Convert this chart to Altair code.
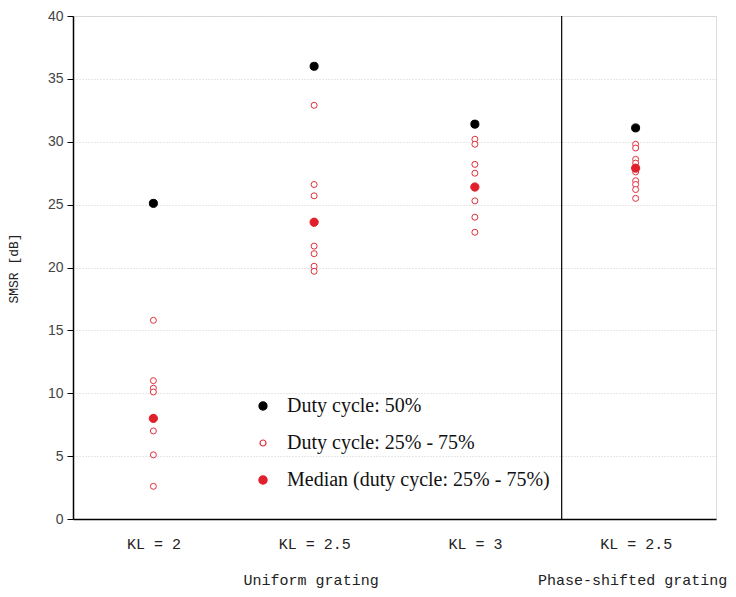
import altair as alt
import pandas as pd

# ---- data ----
positions = [0.5, 1.5, 2.5, 3.5]
kl_labels = ["KL = 2", "KL = 2.5", "KL = 3", "KL = 2.5"]
group_names = ["Uniform grating", "Phase-shifted grating"]
group_pos = [1.5, 3.5]
divider_pos = [3.04]

duty50 = [25.1, 36.0, 31.4, 31.1]
median_vals = [8.0, 23.6, 26.4, 27.9]
spread_kl2 = [15.8, 11.0, 10.4, 10.1, 8.0, 7.0, 5.1, 2.6]
spread_kl25 = [32.9, 26.6, 25.7, 23.6, 21.7, 21.1, 20.1, 19.7]
spread_kl3 = [30.2, 29.8, 28.2, 27.5, 26.4, 25.3, 24.0, 22.8]
spread_ps = [29.8, 29.5, 28.6, 28.3, 27.6, 26.9, 26.6, 26.2, 25.5]

S50 = "Duty cycle: 50%"
SSP = "Duty cycle: 25% - 75%"
SMD = "Median (duty cycle: 25% - 75%)"
series_order = [S50, SSP, SMD]

rows = []
for p, lst in zip(positions, [spread_kl2, spread_kl25, spread_kl3, spread_ps]):
    for v in lst:
        rows.append({"x": p, "y": v, "series": SSP, "ord": 0})
for p, v in zip(positions, median_vals):
    rows.append({"x": p, "y": v, "series": SMD, "ord": 1})
for p, v in zip(positions, duty50):
    rows.append({"x": p, "y": v, "series": S50, "ord": 2})
df = pd.DataFrame(rows)

label_expr = " : ".join(
    f"datum.value == {p} ? '{l}'" for p, l in zip(positions, kl_labels)
) + " : ''"

x_scale = alt.Scale(domain=[0, 4], nice=False, zero=False)
y_scale = alt.Scale(domain=[0, 40], nice=False)

points = alt.Chart(df).mark_point(filled=False, opacity=1, strokeWidth=1).encode(
    x=alt.X("x:Q", scale=x_scale,
            axis=alt.Axis(values=positions, labelExpr=label_expr, ticks=False,
                          grid=False, title=None, labelPadding=17,
                          labelFont="Liberation Mono", labelFontSize=15,
                          labelColor="#222", domainColor="black",
                          domainWidth=1.5)),
    y=alt.Y("y:Q", scale=y_scale,
            axis=alt.Axis(values=list(range(0, 45, 5)), title="SMSR [dB]",
                          titleFont="Liberation Mono", titleFontSize=13,
                          titleFontWeight="normal", titleColor="#222",
                          titleX=-53, titleY=252, titleAngle=-90,
                          labelFont="Liberation Sans", labelFontSize=14,
                          labelColor="#444", labelPadding=4,
                          tickSize=6, tickColor="black", domainColor="black",
                          domainWidth=1.5, grid=True, gridColor="#cfcfcf",
                          gridDash=[1, 2], gridWidth=1)),
    color=alt.Color("series:N", scale=alt.Scale(domain=series_order,
                    range=["black", "#e0303a", "#e0202a"]),
                    legend=alt.Legend(title=None, orient="none", legendX=180,
                                      legendY=380, labelFont="Liberation Serif",
                                      labelFontSize=20, labelColor="#111",
                                      labelLimit=0, rowPadding=17,
                                      labelOffset=14, symbolStrokeWidth=1.2)),
    fill=alt.Fill("series:N", scale=alt.Scale(domain=series_order,
                  range=["black", "white", "#e0202a"]), legend=alt.Legend(title=None)),
    size=alt.Size("series:N", scale=alt.Scale(type="ordinal", domain=series_order,
                  range=[65, 36, 68]), legend=alt.Legend(title=None)),
    order=alt.Order("ord:Q"),
)

divider = alt.Chart(pd.DataFrame({"x": divider_pos})).mark_rule(
    color="black", strokeWidth=1.2).encode(x=alt.X("x:Q", scale=x_scale))

groups = alt.Chart(pd.DataFrame({"x": group_pos, "t": group_names})).mark_text(
    font="Liberation Mono", fontSize=15, color="#222", baseline="alphabetic", dx=-3
).encode(x=alt.X("x:Q", scale=x_scale), y=alt.value(569), text="t:N")

chart = alt.layer(divider, points, groups).properties(
    width=643, height=503,
    autosize=alt.AutoSizeParams(type="none"),
    padding={"left": 65, "top": 8, "right": 12, "bottom": 70},
).configure_view(stroke="black", strokeWidth=1.5).configure(background="white")

chart.save("out.html", embed_options={"renderer": "svg", "actions": False})
